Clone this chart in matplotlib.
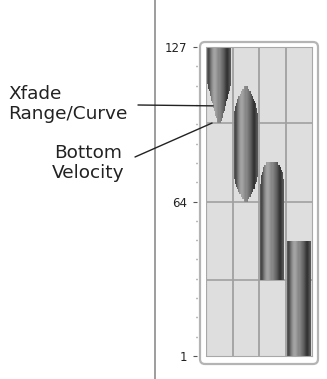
import numpy as np
import matplotlib
matplotlib.use("Agg")
import matplotlib.pyplot as plt
from matplotlib.patches import Polygon, FancyBboxPatch
from matplotlib.transforms import IdentityTransform

# velocity zones, one per column
zone_top = [127, 111, 80, 48]
zone_bottom = [96, 64, 32, 1]
fade_top = [0, 13, 11, 0]       # velocity span of the top crossfade
fade_bottom = [16, 12, 0, 0]    # velocity span of the bottom crossfade
curves = ["linear", "convex", "round", "linear"]
tip_width = [0.15, 0.1, 0.3, 1.0]
grid_vel = [32, 64, 96]
tick_labels = {1: "1", 64: "64", 127: "127"}

# shading across a bar (left edge -> right edge), gray level
shade = [0.34, 0.29, 0.33, 0.42, 0.50, 0.57, 0.62, 0.64, 0.63, 0.60, 0.56,
         0.53, 0.50, 0.46, 0.42, 0.38, 0.33, 0.27, 0.22, 0.21, 0.25, 0.31, 0.34]

W, H = 327, 379


def shape_of(v, top, bot, ft, fb, curve, fmin):
    if ft and v > top - ft:
        t = (top - v) / ft
    elif fb and v < bot + fb:
        t = (v - bot) / fb
    else:
        return 1.0
    t = min(max(t, 0.0), 1.0)
    if curve == "convex":
        g = 1 - (1 - t) ** 2
    elif curve == "round":
        g = np.sqrt(1 - (1 - t) ** 2)
    else:
        g = t
    return fmin + (1 - fmin) * g


fig = plt.figure(figsize=(W / 100, H / 100), dpi=100)

# left panel line
fig.add_artist(plt.Line2D([155 / W, 155 / W], [0, 1], color="#8c8c8c", lw=1.2))

# rounded outer frame (pixel coords, y from bottom)
frame = FancyBboxPatch((200, H - 364), 118, 322, boxstyle="round,pad=0,rounding_size=5",
                       transform=IdentityTransform(), facecolor="white",
                       edgecolor="#b4b4b4", lw=1.6, zorder=0.5)
fig.add_artist(frame)

ax = fig.add_axes([206 / W, (H - 356) / H, 106 / W, 309 / H])
ax.set_zorder(2)
ax.set_facecolor("#dedede")

for gv in grid_vel:
    ax.axhline(gv, color="#a0a0a0", lw=1.2, zorder=1)
for gx in [1, 2, 3]:
    ax.axvline(gx, color="#a0a0a0", lw=1.3, zorder=1)

hw = 0.45
for i in range(4):
    top, bot = zone_top[i], zone_bottom[i]
    vs = np.arange(bot, top + 0.01, 1.0)
    if vs[-1] < top:
        vs = np.append(vs, top)
    right, left = [], []
    for a, b in zip(vs[:-1], vs[1:]):
        f = shape_of((a + b) / 2, top, bot, fade_top[i], fade_bottom[i], curves[i], tip_width[i])
        right += [(i + 0.5 + hw * f, a), (i + 0.5 + hw * f, b)]
        left += [(i + 0.5 - hw * f, a), (i + 0.5 - hw * f, b)]
    poly = Polygon(right + left[::-1], closed=True, facecolor="none", edgecolor="none")
    ax.add_patch(poly)
    im = ax.imshow(np.array([shade]), cmap="gray", vmin=0, vmax=1, aspect="auto",
                   interpolation="nearest",
                   extent=[i + 0.5 - hw, i + 0.5 + hw, bot, top], zorder=2)
    im.set_clip_path(poly)

ax.set_xlim(0, 4)
ax.set_ylim(1, 127)
ax.set_xticks([])
for s in ["top", "right", "bottom"]:
    ax.spines[s].set_color("#a8a8a8")
ax.spines["left"].set_position(("outward", 6.5))
ax.spines["left"].set_visible(False)
ax.set_yticks(list(tick_labels.keys()))
ax.set_yticklabels(list(tick_labels.values()), fontsize=8.5, color="#222222")
ax.set_yticks(np.linspace(1, 127, 17), minor=True)
ax.tick_params(axis="y", which="major", length=3, width=0.8, color="#555555", pad=4)
ax.tick_params(axis="y", which="minor", length=1, width=1, color="#777777")
# inner border line of the plot area on the left
ax.axvline(0, color="#a8a8a8", lw=1.6, zorder=3)

# callouts
ax.annotate("Xfade\nRange/Curve", xy=(0.27, 103), xycoords="data",
            xytext=(8 / W, 1 - 104 / H), textcoords="figure fraction",
            ha="left", va="center", fontsize=13.3, linespacing=1.08,
            family="DejaVu Sans", color="#222222")
ax.annotate("", xy=(0.27, 103), xycoords="data",
            xytext=(138 / W, 1 - 105 / H), textcoords="figure fraction",
            arrowprops=dict(arrowstyle="-", color="#222222", lw=1, shrinkA=0, shrinkB=0))
ax.annotate("Bottom\nVelocity", xy=(0.23, zone_bottom[0]), xycoords="data",
            xytext=(88 / W, 1 - 163 / H), textcoords="figure fraction",
            ha="center", va="center", fontsize=13.3, linespacing=1.08,
            family="DejaVu Sans", color="#222222")
ax.annotate("", xy=(0.23, zone_bottom[0]), xycoords="data",
            xytext=(135 / W, 1 - 157 / H), textcoords="figure fraction",
            arrowprops=dict(arrowstyle="-", color="#222222", lw=1, shrinkA=0, shrinkB=0))

fig.savefig("out.png", dpi=100)
